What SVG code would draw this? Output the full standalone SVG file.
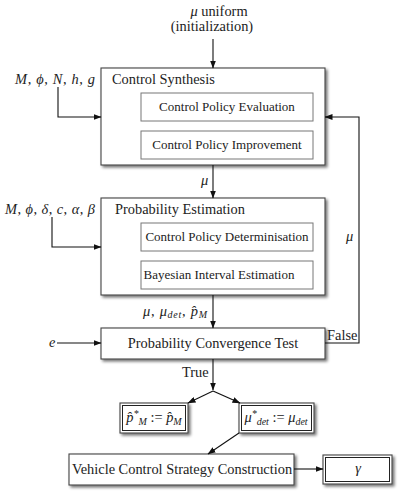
<svg xmlns="http://www.w3.org/2000/svg" width="403" height="499" viewBox="0 0 403 499">
<style>
text{font-family:"Liberation Serif","Times New Roman",serif;font-size:14.4px;fill:#222}
.t{font-size:13px}
.m{font-style:italic}
.c{text-anchor:middle}
.box{fill:#fff;stroke:#444;stroke-width:1.1}
.in{fill:#fff;stroke:#777;stroke-width:1}
.dbl{fill:none;stroke:#222;stroke-width:1}
.ln{fill:none;stroke:#111;stroke-width:1.1}
.sub{font-size:10px}
</style>
<defs>
<filter id="sh" x="-10%" y="-10%" width="130%" height="140%">
<feGaussianBlur in="SourceAlpha" stdDeviation="1.5"/>
<feOffset dx="1.5" dy="2" result="b"/>
<feComponentTransfer><feFuncA type="linear" slope="0.55"/></feComponentTransfer>
<feMerge><feMergeNode/><feMergeNode in="SourceGraphic"/></feMerge>
</filter>
<marker id="a" markerWidth="8" markerHeight="6" refX="7.5" refY="3" orient="auto" markerUnits="userSpaceOnUse">
<path d="M0,0 L8,3 L0,6 z" fill="#111"/>
</marker>
</defs>

<g id="init-label">
<text class="c" x="219" y="16"><tspan class="m">μ</tspan> uniform</text>
<text class="c" x="212" y="31">(initialization)</text>
</g>

<g id="control-synthesis">
<rect class="box" x="101" y="68" width="224" height="97" filter="url(#sh)"/>
<text x="112" y="84">Control Synthesis</text>
<g id="cpe"><rect class="in" x="141" y="93" width="172" height="28"/><text class="c t" x="227" y="111">Control Policy Evaluation</text></g>
<g id="cpi"><rect class="in" x="141" y="131" width="172" height="28"/><text class="c t" x="227" y="149">Control Policy Improvement</text></g>
</g>

<g id="probability-estimation">
<rect class="box" x="101" y="198" width="224" height="97" filter="url(#sh)"/>
<text x="115" y="214">Probability Estimation</text>
<g id="cpd"><rect class="in" x="141" y="223" width="172" height="28"/><text class="c t" x="227" y="241">Control Policy Determinisation</text></g>
<g id="bie"><rect class="in" x="141" y="261" width="172" height="28"/><text class="c t" x="219" y="279">Bayesian Interval Estimation</text></g>
</g>

<g id="convergence-test">
<rect class="box" x="101" y="328" width="224" height="31" filter="url(#sh)"/>
<text class="c" x="213" y="348">Probability Convergence Test</text>
</g>

<g id="p-star">
<rect class="box" x="120" y="403" width="68" height="30" filter="url(#sh)"/>
<rect class="dbl" x="122.5" y="405.5" width="63" height="25"/>
<text class="c m" x="154" y="422">p̂<tspan class="sub" dy="-5">*</tspan><tspan class="sub" dy="8">M</tspan><tspan dy="-3" font-style="normal"> := </tspan>p̂<tspan class="sub" dy="3">M</tspan></text>
</g>

<g id="mu-star">
<rect class="box" x="239" y="403" width="75" height="30" filter="url(#sh)"/>
<rect class="dbl" x="241.5" y="405.5" width="70" height="25"/>
<text class="c m" x="276" y="422">μ<tspan class="sub" dy="-5">*</tspan><tspan class="sub" dy="8">det</tspan><tspan dy="-3" font-style="normal"> := </tspan>μ<tspan class="sub" dy="3">det</tspan></text>
</g>

<g id="vehicle-strategy">
<rect class="box" x="69" y="454" width="225" height="31" filter="url(#sh)"/>
<text class="c" x="182" y="474">Vehicle Control Strategy Construction</text>
</g>

<g id="gamma">
<rect class="box" x="323" y="455" width="69" height="29" filter="url(#sh)"/>
<rect class="dbl" x="325.5" y="457.5" width="64" height="24"/>
<text class="c m" x="358" y="473">γ</text>
</g>

<g id="inputs">
<text class="m" x="15" y="84" textLength="80">M<tspan font-style="normal">, </tspan>ϕ<tspan font-style="normal">, </tspan>N<tspan font-style="normal">, </tspan>h<tspan font-style="normal">, </tspan>g</text>
<text class="m" x="5" y="214" textLength="90">M<tspan font-style="normal">, </tspan>ϕ<tspan font-style="normal">, </tspan>δ<tspan font-style="normal">, </tspan>c<tspan font-style="normal">, </tspan>α<tspan font-style="normal">, </tspan>β</text>
<text class="m" x="49" y="347">e</text>
</g>

<g id="connectors">
<path class="ln" d="M213,39 V68" marker-end="url(#a)"/>
<path class="ln" d="M58,87 V117 H101" marker-end="url(#a)"/>
<path class="ln" d="M52,217 V247 H101" marker-end="url(#a)"/>
<path class="ln" d="M213,165 V198" marker-end="url(#a)"/>
<path class="ln" d="M213,295 V328" marker-end="url(#a)"/>
<path class="ln" d="M325,343 H359 V117 H325" marker-end="url(#a)"/>
<path class="ln" d="M57,343 H101" marker-end="url(#a)"/>
<path class="ln" d="M213,359 V390" marker-end="url(#a)"/>
<path class="ln" d="M213,391 L188,403" marker-end="url(#a)"/>
<path class="ln" d="M213,391 L240,403" marker-end="url(#a)"/>
<path class="ln" d="M239,433 L208,454" marker-end="url(#a)"/>
<path class="ln" d="M294,469 H323" marker-end="url(#a)"/>
<text class="m" x="201" y="185">μ</text>
<text class="m" x="346" y="241">μ</text>
<text x="327" y="340">False</text>
<text x="182" y="377">True</text>
<text class="m" x="143" y="316" textLength="64">μ<tspan font-style="normal">, </tspan>μ<tspan class="sub" dy="2">det</tspan><tspan font-style="normal" dy="-2">, </tspan>p̂<tspan class="sub" dy="2">M</tspan></text>
</g>
</svg>
